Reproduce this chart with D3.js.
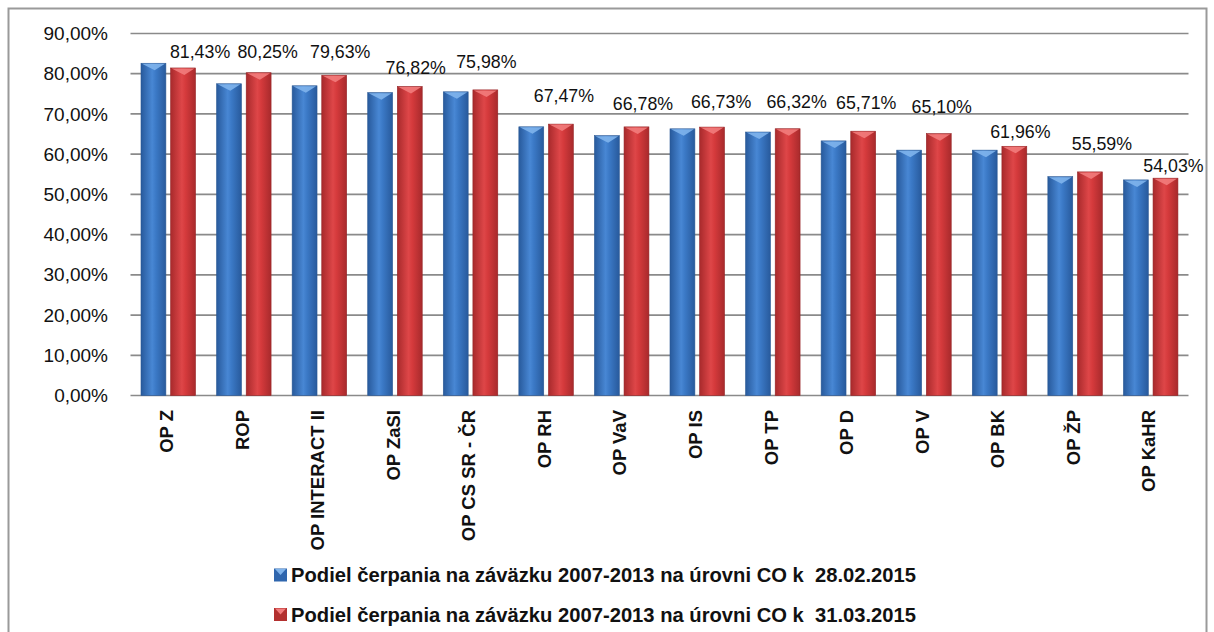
<!DOCTYPE html>
<html><head><meta charset="utf-8">
<script src="https://cdn.jsdelivr.net/npm/d3@7"></script>
<style>body{margin:0;background:#fff}svg{display:block}text{font-family:"Liberation Sans",Arial,sans-serif}</style>
</head><body>
<svg id="c" width="1214" height="632"></svg>
<script>
const categories = ["OP Z","ROP","OP INTERACT II","OP ZaSI","OP CS SR - ČR","OP RH","OP VaV","OP IS","OP TP","OP D","OP V","OP BK","OP ŽP","OP KaHR"];
const seriesFeb = [82.6, 77.5, 77.0, 75.3, 75.5, 66.8, 64.6, 66.3, 65.5, 63.3, 61.0, 61.0, 54.4, 53.6];
const seriesMar = [81.43, 80.25, 79.63, 76.82, 75.98, 67.47, 66.78, 66.73, 66.32, 65.71, 65.10, 61.96, 55.59, 54.03];
const seriesNames = ["Podiel čerpania na záväzku 2007-2013 na úrovni CO k  28.02.2015",
                     "Podiel čerpania na záväzku 2007-2013 na úrovni CO k  31.03.2015"];
const yTicks = [0,10,20,30,40,50,60,70,80,90];
// manual label placement (layout, px) relative to red bar centre / top
const labelDx = [17, 9, 6, 6, 1, 3, 6.5, 9, 9, 3, 3, 6, 12, 8];
const labelDy = [10, 15, 17, 12.5, 22, 22, 17, 19, 21, 22, 21, 8, 22, 6.5];

const svg = d3.select("#c");
const fmt = v => d3.format(".2f")(v).replace(".", ",") + "%";

const x0 = 130.5, x1 = 1188.5, yTop = 33.5, yBot = 395.5;
const x = d3.scaleBand().domain(categories).range([x0, x1]).paddingInner(0).paddingOuter(0);
const y = d3.scaleLinear().domain([0, 90]).range([yBot, yTop]);
const inner = d3.scaleBand().domain([0,1]).range([10.5, 65]).paddingInner(0.16);

// border
svg.append("rect").attr("x", 8.5).attr("y", 8.5).attr("width", 1198).attr("height", 700)
  .attr("fill", "none").attr("stroke", "#9a9a9a").attr("stroke-width", 2);

const defs = svg.append("defs");
function grad(id, edge, mid, light) {
  const g = defs.append("linearGradient").attr("id", id).attr("x1", 0).attr("x2", 1).attr("y1", 0).attr("y2", 0);
  g.append("stop").attr("offset", "0%").attr("stop-color", edge);
  g.append("stop").attr("offset", "45%").attr("stop-color", light);
  g.append("stop").attr("offset", "60%").attr("stop-color", mid);
  g.append("stop").attr("offset", "100%").attr("stop-color", edge);
}
grad("gBlue", "#285a9c", "#3b79c6", "#4887d4");
grad("gRed", "#a82a2c", "#d53a3c", "#de4648");

// gridlines
svg.append("g").selectAll("line").data(yTicks).join("line")
  .attr("x1", x0).attr("x2", x1).attr("y1", d => y(d)).attr("y2", d => y(d))
  .attr("stroke", "#8a8a8a").attr("stroke-width", 1.7);

// y axis labels
const yAxis = d3.axisLeft(y).tickValues(yTicks).tickSize(0).tickPadding(0).tickFormat(d => d3.format(".2f")(d).replace(".", ",") + "%");
const ya = svg.append("g").attr("transform", `translate(108,0)`).call(yAxis);
ya.select(".domain").remove();
ya.selectAll("text").attr("font-size", 19).attr("fill", "#111").attr("font-family", "Liberation Sans, Arial, sans-serif");

const series = [
  {vals: seriesFeb, fill: "url(#gBlue)", cap: "#80b4ec", stroke: "#2a5894"},
  {vals: seriesMar, fill: "url(#gRed)", cap: "#f27c7c", stroke: "#962426"}
];
const bw = inner.bandwidth();
series.forEach((s, si) => {
  const g = svg.append("g");
  categories.forEach((c, i) => {
    const bx = x(c) + inner(si);
    const top = y(s.vals[i]);
    g.append("rect").attr("x", bx).attr("y", top).attr("width", bw).attr("height", yBot - top)
      .attr("fill", s.fill).attr("stroke", s.stroke).attr("stroke-width", 0.6);
    g.append("path").attr("d", `M${bx+1},${top+0.5} L${bx+bw-1},${top+0.5} L${bx+bw*0.55},${top+7} Z`)
      .attr("fill", s.cap).attr("opacity", 0.9);
  });
});

// data labels (second series)
svg.append("g").selectAll("text").data(categories).join("text")
  .attr("x", (c, i) => x(c) + inner(1) + bw / 2 + labelDx[i])
  .attr("y", (c, i) => y(seriesMar[i]) - labelDy[i])
  .attr("text-anchor", "middle").attr("font-size", 17.8).attr("fill", "#111")
  .text((c, i) => fmt(seriesMar[i]));

// x category labels (rotated)
svg.append("g").selectAll("text").data(categories).join("text")
  .attr("transform", c => `translate(${x(c) + x.bandwidth()/2 - 2},410) rotate(-90)`)
  .attr("text-anchor", "end").attr("dy", "0.36em")
  .attr("font-size", 18.5).attr("font-weight", "bold").attr("fill", "#111")
  .text(c => c);

// legend
const leg = svg.append("g");
const legColors = [["#2f66ae", "#80b4ec"], ["#b3302f", "#f27c7c"]];
seriesNames.forEach((n, i) => {
  const ly = 575 + i * 39.5;
  leg.append("rect").attr("x", 274).attr("y", ly - 6.5).attr("width", 13).attr("height", 13)
    .attr("fill", legColors[i][0]);
  leg.append("path").attr("d", `M275,${ly-6} L286,${ly-6} L280.5,${ly} Z`).attr("fill", legColors[i][1]);
  leg.append("text").attr("x", 291).attr("y", ly).attr("dy", "0.36em")
    .style("white-space", "pre")
    .attr("font-size", 20.2).attr("font-weight", "bold").attr("fill", "#111").text(n);
});
</script>
</body></html>
